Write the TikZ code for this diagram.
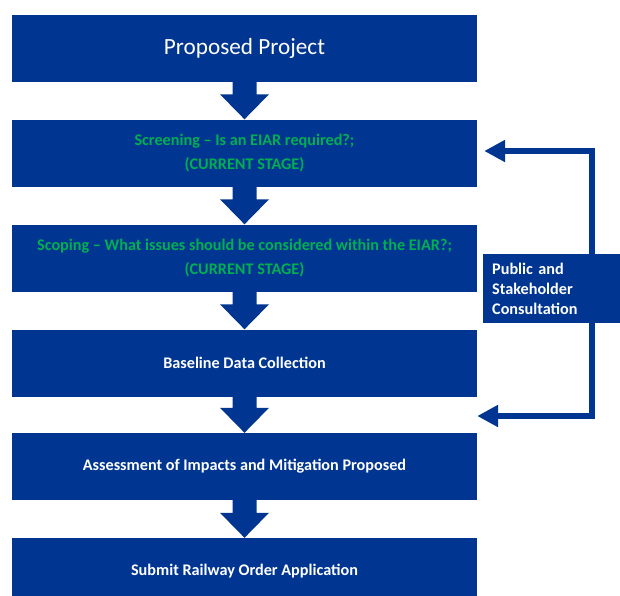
\documentclass[tikz,border=0pt]{standalone}
\usepackage{fontspec}
\setmainfont{Carlito}
\usetikzlibrary{arrows.meta,calc}
\definecolor{navy}{RGB}{0,53,145}
\definecolor{stagegreen}{RGB}{0,176,80}
\begin{document}
\begin{tikzpicture}[x=1pt,y=-1pt,
  stepbox/.style={fill=navy, minimum width=465pt, minimum height=67pt, inner sep=0pt,
    text=white, font=\bfseries\fontsize{16.2}{24}\selectfont, align=center},
  flowarrow/.style={fill=navy},
  loopline/.style={draw=navy, line width=6pt, -{Triangle[length=21pt,width=21pt]}}
]
\useasboundingbox (0,0) rectangle (620,595);
\node[stepbox, font=\fontsize{23.2}{24}\selectfont] (b1) at (244.5,48.5) {Proposed Project};
\node[stepbox, text=stagegreen] (b2) at (244.5,153) {Screening – Is an EIAR required?;\\(CURRENT STAGE)};
\node[stepbox, text=stagegreen] (b3) at (244.5,258) {Scoping – What issues should be considered within the EIAR?;\\(CURRENT STAGE)};
\node[stepbox] (b4) at (244.5,363) {Baseline Data Collection};
\node[stepbox] (b5) at (244.5,466.5) {Assessment of Impacts and Mitigation Proposed};
\node[stepbox] (b6) at (244.5,571.5) {Submit Railway Order Application};
\foreach \a/\b in {b1/b2,b2/b3,b3/b4,b4/b5,b5/b6}{
  \fill[flowarrow] ($(\a.south)+(-12,-1)$) -- ($(\b.north)+(-12,-25)$) -- ($(\b.north)+(-24.5,-25)$)
    -- (\b.north) -- ($(\b.north)+(24.5,-25)$) -- ($(\b.north)+(12,-25)$) -- ($(\a.south)+(12,-1)$) -- cycle;
}
\node[fill=navy, text=white, font=\bfseries\fontsize{16.2}{20}\selectfont, align=left,
  anchor=north west, text width=130pt, inner xsep=9pt, inner ysep=0pt, minimum height=69pt] (cons) at (483,254)
  {Public and\\Stakeholder\\Consultation};
\coordinate (rx) at (592,0);
\coordinate (in2) at ($(b2.east)+(7,-2)$);
\coordinate (in5) at ($(b5.east)+(0,-50.5)$);
\draw[loopline] (cons.north -| rx) |- (in2);
\draw[loopline] (cons.south -| rx) |- (in5);
\end{tikzpicture}
\end{document}
